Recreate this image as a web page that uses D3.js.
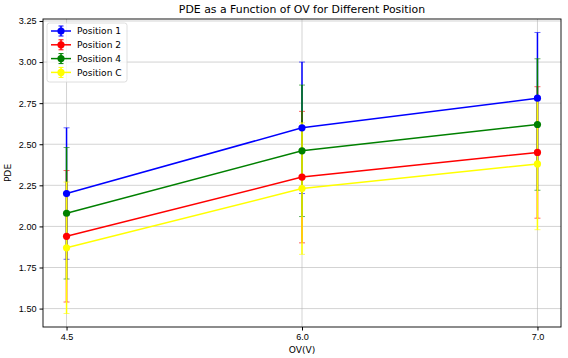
<!DOCTYPE html>
<html><head><meta charset="utf-8">
<script src="https://cdn.jsdelivr.net/npm/d3@7"></script>
<style>body{margin:0;background:#fff}svg{display:block;font-family:"DejaVu Sans",sans-serif}</style>
</head><body><div id="chart"></div>
<script>
const categories = ["4.5", "6.0", "7.0"];
const seriesNames = ["Position 1", "Position 2", "Position 4", "Position C"];
const seriesColors = ["blue", "red", "green", "yellow"];
const pos1 = [2.20, 2.60, 2.78];
const pos2 = [1.94, 2.30, 2.45];
const pos4 = [2.08, 2.46, 2.62];
const posC = [1.87, 2.23, 2.38];
const errors = [0.40, 0.40, 0.40];
const yTicks = [1.50, 1.75, 2.00, 2.25, 2.50, 2.75, 3.00, 3.25];

const W = 568, H = 358;
const m = {left: 43, right: 7, top: 19, bottom: 31};
const svg = d3.select("#chart").append("svg").attr("width", W).attr("height", H);

const x = d3.scaleLinear().domain([-0.1, 2.1]).range([m.left, W - m.right]);
const y = d3.scaleLinear().domain([1.388, 3.262]).range([H - m.bottom, m.top]);

// grid
const g = svg.append("g");
g.selectAll(".hg").data(yTicks).join("line")
  .attr("x1", m.left).attr("x2", W - m.right)
  .attr("y1", d => y(d)).attr("y2", d => y(d))
  .attr("stroke", "#b0b0b0").attr("stroke-opacity", 0.7).attr("stroke-width", 0.8);
g.selectAll(".vg").data(categories).join("line")
  .attr("x1", (d, i) => x(i)).attr("x2", (d, i) => x(i))
  .attr("y1", m.top).attr("y2", H - m.bottom)
  .attr("stroke", "#b0b0b0").attr("stroke-opacity", 0.7).attr("stroke-width", 0.8);

// axes
const xAxis = d3.axisBottom(x).tickValues([0, 1, 2]).tickFormat(i => categories[i]).tickSize(3.5).tickPadding(3);
const yAxis = d3.axisLeft(y).tickValues(yTicks).tickFormat(d3.format(".2f")).tickSize(3.5).tickPadding(3);
svg.append("g").attr("transform", `translate(0,${H - m.bottom})`).call(xAxis)
  .call(a => a.select(".domain").remove())
  .selectAll("text").attr("font-size", 9.1).attr("fill", "#000");
svg.append("g").attr("transform", `translate(${m.left},0)`).call(yAxis)
  .call(a => a.select(".domain").remove())
  .selectAll("text").attr("font-size", 9.1).attr("fill", "#000");

// series
const all = [pos1, pos2, pos4, posC];
const line = d3.line().x((d, i) => x(i)).y(d => y(d));
const eg = svg.append("g");
all.forEach((vals, si) => {
  const c = seriesColors[si];
  vals.forEach((v, i) => {
    eg.append("line").attr("x1", x(i)).attr("x2", x(i))
      .attr("y1", y(v - errors[i])).attr("y2", y(v + errors[i]))
      .attr("stroke", c).attr("stroke-width", 1.5);
    [v - errors[i], v + errors[i]].forEach(e => {
      eg.append("line").attr("x1", x(i) - 3).attr("x2", x(i) + 3)
        .attr("y1", y(e)).attr("y2", y(e))
        .attr("stroke", c).attr("stroke-width", 1).attr("stroke-opacity", 0.6);
    });
  });
});
all.forEach((vals, si) => {
  const c = seriesColors[si];
  const sg = svg.append("g");
  sg.append("path").datum(vals).attr("d", line)
    .attr("fill", "none").attr("stroke", c).attr("stroke-width", 1.5);
  sg.selectAll("circle").data(vals).join("circle")
    .attr("cx", (d, i) => x(i)).attr("cy", d => y(d)).attr("r", 3.6).attr("fill", c);
});

svg.append("rect").attr("x", m.left).attr("y", m.top)
  .attr("width", W - m.right - m.left).attr("height", H - m.bottom - m.top)
  .attr("fill", "none").attr("stroke", "#000").attr("stroke-width", 0.9);

// legend
const lg = svg.append("g");
lg.append("rect").attr("x", 47).attr("y", 23).attr("width", 80).attr("height", 59).attr("rx", 2.5)
  .attr("fill", "#fff").attr("fill-opacity", 0.8).attr("stroke", "#d5d5d5").attr("stroke-width", 0.8);
seriesNames.forEach((n, i) => {
  const yy = 31 + i * 13.8;
  const c = seriesColors[i];
  lg.append("line").attr("x1", 51).attr("x2", 71).attr("y1", yy).attr("y2", yy).attr("stroke", c).attr("stroke-width", 1.5);
  lg.append("line").attr("x1", 61).attr("x2", 61).attr("y1", yy - 5).attr("y2", yy + 5).attr("stroke", c).attr("stroke-width", 1.5);
  lg.append("line").attr("x1", 58.5).attr("x2", 63.5).attr("y1", yy - 5).attr("y2", yy - 5).attr("stroke", c).attr("stroke-width", 1);
  lg.append("line").attr("x1", 58.5).attr("x2", 63.5).attr("y1", yy + 5).attr("y2", yy + 5).attr("stroke", c).attr("stroke-width", 1);
  lg.append("circle").attr("cx", 61).attr("cy", yy).attr("r", 3.6).attr("fill", c);
  lg.append("text").attr("x", 77).attr("y", yy + 3.4).attr("font-size", 9.1).text(n);
});

// titles
svg.append("text").attr("x", (m.left + W - m.right) / 2).attr("y", 13).attr("text-anchor", "middle")
  .attr("font-size", 10.9).text("PDE as a Function of OV for Different Position");
svg.append("text").attr("x", (m.left + W - m.right) / 2).attr("y", 353).attr("text-anchor", "middle")
  .attr("font-size", 9.1).text("OV(V)");
svg.append("text").attr("transform", `translate(11,${(m.top + H - m.bottom) / 2}) rotate(-90)`)
  .attr("text-anchor", "middle").attr("font-size", 9.1).text("PDE");
</script></body></html>
